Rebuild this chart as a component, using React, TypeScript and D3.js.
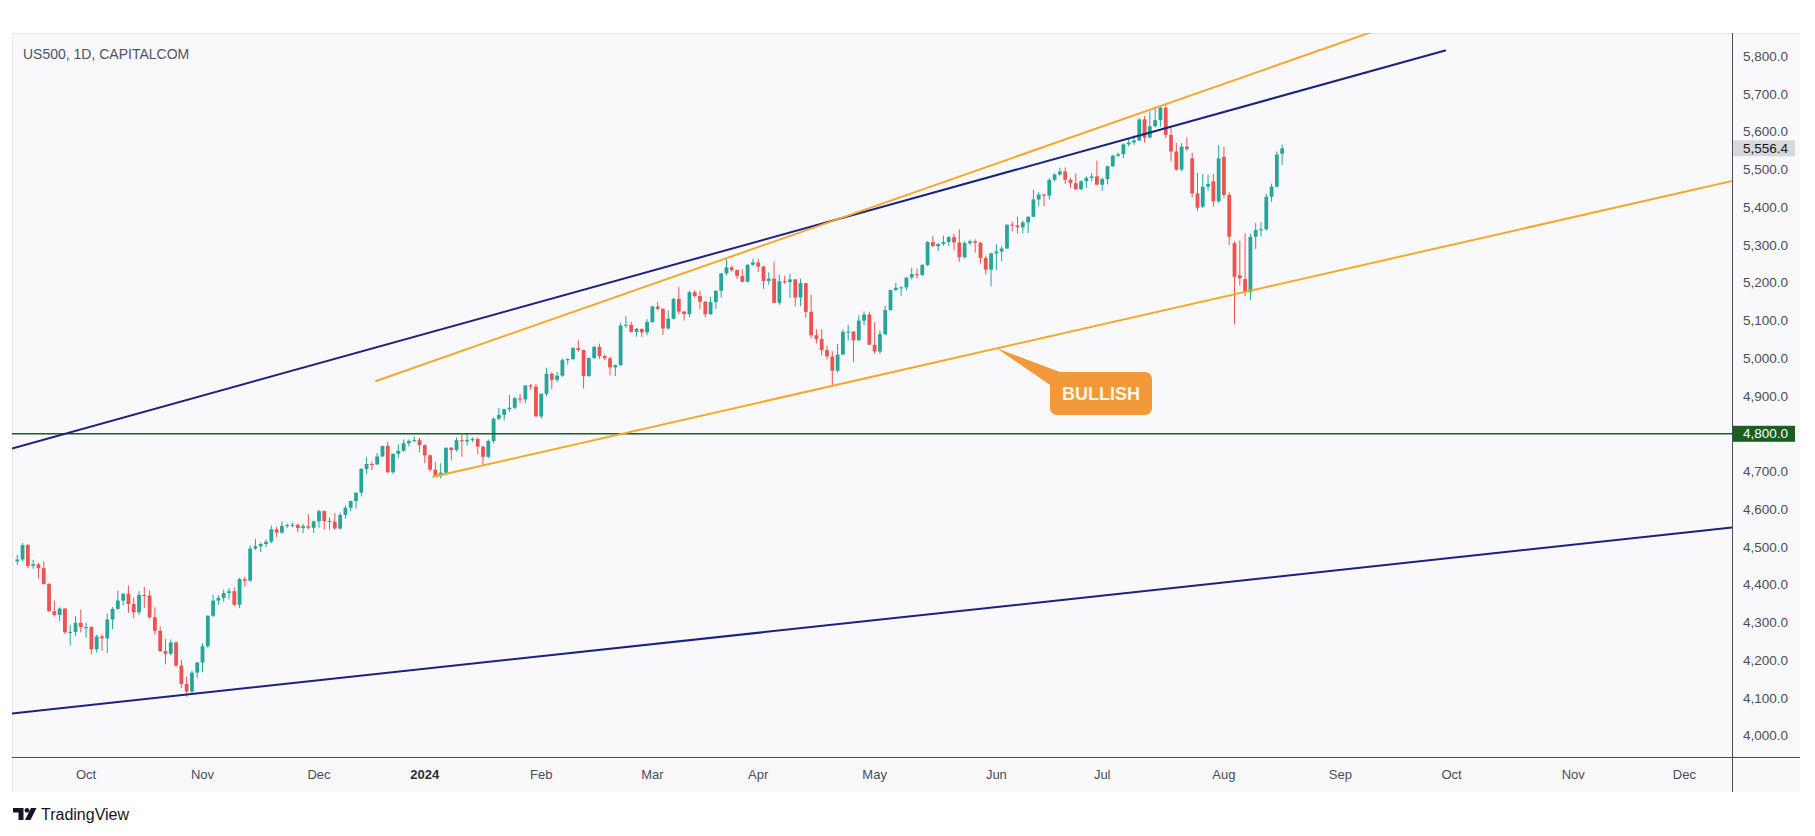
import React from "react";
import * as d3 from "d3";

type Bar = [number, number, number, number, number]; // day, open, high, low, close

const sep2023: Bar[] = [
  [13, 4462, 4479, 4453, 4467], [14, 4467, 4511, 4462, 4505], [15, 4505, 4508, 4444, 4450],
  [18, 4450, 4466, 4442, 4454], [19, 4454, 4458, 4417, 4444], [20, 4444, 4462, 4400, 4402],
  [21, 4402, 4404, 4328, 4330], [22, 4330, 4358, 4316, 4320], [25, 4320, 4340, 4303, 4337],
  [26, 4337, 4338, 4270, 4274], [27, 4274, 4293, 4239, 4275], [28, 4275, 4317, 4264, 4299],
  [29, 4299, 4334, 4274, 4288],
];
const oct2023: Bar[] = [
  [2, 4288, 4300, 4260, 4288], [3, 4288, 4290, 4216, 4229], [4, 4229, 4268, 4220, 4263],
  [5, 4263, 4268, 4225, 4258], [6, 4258, 4324, 4219, 4308], [9, 4308, 4341, 4283, 4336],
  [10, 4336, 4385, 4334, 4358], [11, 4358, 4378, 4345, 4376], [12, 4376, 4398, 4325, 4349],
  [13, 4349, 4366, 4311, 4327], [16, 4327, 4383, 4320, 4373], [17, 4373, 4394, 4338, 4371],
  [18, 4371, 4385, 4310, 4314], [19, 4314, 4340, 4268, 4278], [20, 4278, 4290, 4222, 4224],
  [23, 4224, 4256, 4189, 4217], [24, 4217, 4255, 4212, 4247], [25, 4247, 4250, 4182, 4186],
  [26, 4186, 4202, 4126, 4137], [27, 4137, 4156, 4103, 4117], [30, 4117, 4172, 4110, 4167],
  [31, 4167, 4195, 4153, 4194],
];
const nov2023: Bar[] = [
  [1, 4194, 4245, 4168, 4237], [2, 4237, 4319, 4233, 4318], [3, 4318, 4373, 4315, 4358],
  [6, 4358, 4372, 4347, 4365], [7, 4365, 4387, 4355, 4378], [8, 4378, 4391, 4361, 4383],
  [9, 4383, 4393, 4343, 4347], [10, 4347, 4418, 4338, 4415], [13, 4415, 4421, 4395, 4411],
  [14, 4411, 4504, 4408, 4496], [15, 4496, 4521, 4492, 4502], [16, 4502, 4512, 4487, 4508],
  [17, 4508, 4520, 4500, 4514], [20, 4514, 4557, 4510, 4547], [21, 4547, 4553, 4526, 4538],
  [22, 4538, 4568, 4535, 4556], [23, 4556, 4562, 4550, 4558], [24, 4558, 4564, 4552, 4559],
  [27, 4559, 4562, 4540, 4550], [28, 4550, 4562, 4537, 4555], [29, 4555, 4587, 4546, 4551],
  [30, 4551, 4570, 4537, 4568],
];
const dec2023: Bar[] = [
  [1, 4568, 4599, 4551, 4595], [4, 4595, 4597, 4546, 4569], [5, 4569, 4578, 4546, 4567],
  [6, 4567, 4590, 4546, 4549], [7, 4549, 4591, 4546, 4585], [8, 4585, 4610, 4575, 4604],
  [11, 4604, 4623, 4594, 4622], [12, 4622, 4644, 4601, 4644], [13, 4644, 4709, 4634, 4707],
  [14, 4707, 4738, 4694, 4720], [15, 4720, 4726, 4704, 4719], [18, 4719, 4749, 4717, 4740],
  [19, 4740, 4768, 4738, 4768], [20, 4768, 4779, 4697, 4698], [21, 4698, 4748, 4693, 4747],
  [22, 4747, 4772, 4736, 4755], [26, 4755, 4785, 4752, 4775], [27, 4775, 4785, 4766, 4781],
  [28, 4781, 4793, 4778, 4783], [29, 4783, 4789, 4751, 4770],
];
const jan2024: Bar[] = [
  [2, 4770, 4772, 4722, 4743], [3, 4743, 4745, 4700, 4705], [4, 4705, 4726, 4687, 4689],
  [5, 4689, 4722, 4682, 4697], [8, 4697, 4764, 4690, 4763], [9, 4763, 4765, 4730, 4757],
  [10, 4757, 4790, 4753, 4783], [11, 4783, 4798, 4739, 4780], [12, 4780, 4802, 4768, 4784],
  [15, 4784, 4790, 4778, 4786], [16, 4786, 4790, 4746, 4766], [17, 4766, 4768, 4714, 4739],
  [18, 4739, 4785, 4735, 4781], [19, 4781, 4843, 4775, 4840], [22, 4840, 4868, 4836, 4850],
  [23, 4850, 4866, 4835, 4865], [24, 4865, 4903, 4858, 4869], [25, 4869, 4898, 4865, 4894],
  [26, 4894, 4906, 4881, 4891], [29, 4891, 4929, 4881, 4928], [30, 4928, 4932, 4917, 4925],
  [31, 4925, 4932, 4845, 4846],
];
const feb2024: Bar[] = [
  [1, 4846, 4907, 4840, 4906], [2, 4906, 4975, 4900, 4959], [5, 4959, 4963, 4918, 4943],
  [6, 4943, 4964, 4937, 4954], [7, 4954, 5000, 4951, 4995], [8, 4995, 5000, 4984, 4998],
  [9, 4998, 5030, 4996, 5027], [12, 5027, 5048, 5017, 5022], [13, 5022, 5023, 4920, 4953],
  [14, 4953, 5002, 4950, 5001], [15, 5001, 5033, 4998, 5030], [16, 5030, 5039, 4998, 5006],
  [19, 5006, 5010, 4995, 5000], [20, 5000, 5004, 4955, 4976], [21, 4976, 4984, 4953, 4982],
  [22, 4982, 5094, 4980, 5087], [23, 5087, 5112, 5081, 5089], [26, 5089, 5097, 5068, 5070],
  [27, 5070, 5080, 5057, 5078], [28, 5078, 5079, 5057, 5069], [29, 5069, 5104, 5061, 5096],
];
const mar2024: Bar[] = [
  [1, 5096, 5140, 5094, 5137], [4, 5137, 5149, 5127, 5131], [5, 5131, 5133, 5062, 5079],
  [6, 5079, 5127, 5076, 5105], [7, 5105, 5160, 5103, 5157], [8, 5157, 5189, 5117, 5124],
  [11, 5124, 5125, 5100, 5117], [12, 5117, 5179, 5109, 5175], [13, 5175, 5180, 5160, 5165],
  [14, 5165, 5179, 5130, 5150], [15, 5150, 5152, 5108, 5117], [18, 5117, 5163, 5115, 5149],
  [19, 5149, 5180, 5131, 5179], [20, 5179, 5226, 5161, 5225], [21, 5225, 5262, 5220, 5241],
  [22, 5241, 5246, 5229, 5234], [25, 5234, 5235, 5210, 5218], [26, 5218, 5236, 5202, 5203],
  [27, 5203, 5249, 5201, 5248], [28, 5248, 5264, 5244, 5254],
];
const apr2024: Bar[] = [
  [1, 5254, 5264, 5229, 5243], [2, 5243, 5245, 5184, 5205], [3, 5205, 5228, 5195, 5211],
  [4, 5211, 5256, 5146, 5147], [5, 5147, 5222, 5142, 5204], [8, 5204, 5219, 5197, 5202],
  [9, 5202, 5224, 5160, 5209], [10, 5209, 5210, 5138, 5161], [11, 5161, 5211, 5138, 5199],
  [12, 5199, 5200, 5108, 5123], [15, 5123, 5168, 5053, 5061], [16, 5061, 5077, 5039, 5051],
  [17, 5051, 5077, 5008, 5022], [18, 5022, 5033, 4997, 5005], [19, 5005, 5019, 4929, 4967],
  [22, 4967, 5038, 4962, 5010], [23, 5010, 5076, 5008, 5070], [24, 5070, 5089, 5047, 5071],
  [25, 5071, 5072, 4990, 5048], [26, 5048, 5114, 5045, 5100], [29, 5100, 5124, 5088, 5116],
  [30, 5116, 5123, 5035, 5036],
];
const may2024: Bar[] = [
  [1, 5036, 5096, 5012, 5018], [2, 5018, 5073, 5011, 5064], [3, 5064, 5139, 5062, 5128],
  [6, 5128, 5181, 5126, 5181], [7, 5181, 5200, 5178, 5187], [8, 5187, 5191, 5165, 5188],
  [9, 5188, 5214, 5180, 5214], [10, 5214, 5240, 5209, 5223], [13, 5223, 5238, 5211, 5221],
  [14, 5221, 5250, 5218, 5247], [15, 5247, 5311, 5244, 5308], [16, 5308, 5325, 5296, 5297],
  [17, 5297, 5305, 5284, 5303], [20, 5303, 5325, 5298, 5308], [21, 5308, 5324, 5297, 5321],
  [22, 5321, 5330, 5286, 5307], [23, 5307, 5342, 5256, 5268], [24, 5268, 5311, 5264, 5305],
  [27, 5305, 5315, 5300, 5310], [28, 5310, 5315, 5280, 5306], [29, 5306, 5308, 5251, 5266],
  [30, 5266, 5272, 5222, 5235], [31, 5235, 5280, 5191, 5278],
];
const jun2024: Bar[] = [
  [3, 5278, 5302, 5234, 5283], [4, 5283, 5298, 5257, 5291], [5, 5291, 5355, 5290, 5354],
  [6, 5354, 5362, 5336, 5352], [7, 5352, 5375, 5331, 5347], [10, 5347, 5365, 5331, 5360],
  [11, 5360, 5376, 5332, 5375], [12, 5375, 5447, 5374, 5421], [13, 5421, 5441, 5403, 5434],
  [14, 5434, 5436, 5403, 5431], [17, 5431, 5477, 5420, 5473], [18, 5473, 5490, 5468, 5487],
  [19, 5487, 5505, 5484, 5495], [20, 5495, 5506, 5462, 5473], [21, 5473, 5478, 5452, 5464],
  [24, 5464, 5490, 5447, 5448], [25, 5448, 5472, 5446, 5469], [26, 5469, 5483, 5452, 5478],
  [27, 5478, 5491, 5469, 5482], [28, 5482, 5524, 5458, 5460],
];
const jul2024: Bar[] = [
  [1, 5460, 5479, 5444, 5475], [2, 5475, 5510, 5461, 5509], [3, 5509, 5539, 5507, 5537],
  [4, 5537, 5545, 5533, 5541], [5, 5541, 5570, 5531, 5567], [8, 5567, 5583, 5562, 5572],
  [9, 5572, 5590, 5566, 5577], [10, 5577, 5636, 5576, 5633], [11, 5633, 5642, 5571, 5585],
  [12, 5585, 5655, 5583, 5615], [15, 5615, 5667, 5611, 5631], [16, 5631, 5669, 5614, 5664],
  [17, 5664, 5670, 5583, 5592], [18, 5592, 5615, 5522, 5548], [19, 5548, 5571, 5497, 5500],
  [22, 5500, 5570, 5496, 5561], [23, 5561, 5585, 5550, 5555], [24, 5530, 5545, 5426, 5437],
  [25, 5437, 5492, 5390, 5399], [26, 5402, 5488, 5398, 5455], [29, 5455, 5487, 5444, 5462],
  [30, 5469, 5489, 5402, 5416], [31, 5416, 5565, 5412, 5530],
];
const aug2024: Bar[] = [
  [1, 5534, 5561, 5425, 5433], [2, 5433, 5440, 5300, 5322], [5, 5305, 5310, 5090, 5216],
  [6, 5220, 5312, 5193, 5212], [7, 5210, 5331, 5165, 5175], [8, 5175, 5330, 5155, 5322],
  [9, 5322, 5358, 5290, 5340], [12, 5340, 5360, 5322, 5342], [13, 5342, 5436, 5338, 5428],
  [14, 5428, 5463, 5415, 5455], [15, 5455, 5548, 5452, 5540], [16, 5542, 5566, 5512, 5556.4],
];

const monthBars: [string, Bar[]][] = [
  ["2023-09", sep2023], ["2023-10", oct2023], ["2023-11", nov2023], ["2023-12", dec2023],
  ["2024-01", jan2024], ["2024-02", feb2024], ["2024-03", mar2024], ["2024-04", apr2024],
  ["2024-05", may2024], ["2024-06", jun2024], ["2024-07", jul2024], ["2024-08", aug2024],
];

const noSessionDays = ["2023-12-25", "2024-01-01", "2024-03-29", "2024-12-25"];

const monthTickKeys = ["2023-10", "2023-11", "2023-12", "2024-01", "2024-02", "2024-03", "2024-04",
  "2024-05", "2024-06", "2024-07", "2024-08", "2024-09", "2024-10", "2024-11", "2024-12"];
const monthTickLabels = ["Oct", "Nov", "Dec", "2024", "Feb", "Mar", "Apr", "May", "Jun", "Jul",
  "Aug", "Sep", "Oct", "Nov", "Dec"];

const priceTicks = [4000, 4100, 4200, 4300, 4400, 4500, 4600, 4700, 4800, 4900, 5000, 5100, 5200,
  5300, 5400, 5500, 5600, 5700, 5800];

const lastPrice = 5556.4;
const levelPrice = 4800;

// trend lines: [session index, price] anchors
const navyUpper = [[-1, 4761.0], [269.8, 5815.6]];
const orangeUpper = [[67.8, 4939.9], [204.6, 5612.4]];
const orangeLower = [[78.6, 4686.3], [219.7, 5136.8]];
const navyLower = [[-1, 4059.1], [324, 4551.7]];

const calloutTip = [185.06, 5026.5];
const calloutText = "BULLISH";
const titleText = "US500, 1D, CAPITALCOM";

// ---------- layout ----------
const W = 1815, H = 836;
const PL = 12, PR = 1732, PT = 33, PB = 757, AXR = 1800, TAB = 792;

const UP = "#26a69a", DOWN = "#ef5350";
const NAVY = "#1a237e", ORANGE = "#f6a82a", LEVEL = "#1b5e20", CALLOUT = "#f2993a";

const fmt = d3.timeFormat("%Y-%m-%d");
const parse = d3.timeParse("%Y-%m-%d");
const sessions = d3.timeDay
  .range(parse("2023-09-13")!, parse("2025-01-01")!)
  .filter((d) => d.getDay() !== 0 && d.getDay() !== 6 && !noSessionDays.includes(fmt(d)))
  .map(fmt);
const sessionIndex = new Map(sessions.map((s, i) => [s, i] as [string, number]));

const candles = monthBars.flatMap(([m, bars]) =>
  bars.map(([day, o, h, l, c]) => {
    const date = `${m}-${String(day).padStart(2, "0")}`;
    return { date, i: sessionIndex.get(date) as number, o, h, l, c };
  })
);

const x = d3.scaleLinear().domain([-1, 324]).range([PL, PR]);
const y = d3.scaleLinear().domain([3943.6, 5856.7]).range([PB, 35]);

function seg(pts: number[][], extendRight: boolean) {
  const [[i1, p1], [i2, p2]] = pts;
  let ie = i2, pe = p2;
  if (extendRight) {
    ie = x.domain()[1] + 2;
    pe = p1 + ((p2 - p1) * (ie - i1)) / (i2 - i1);
  }
  return { x1: x(i1), y1: y(p1), x2: x(ie), y2: y(pe) };
}

const priceFmt = d3.format(",.1f");

export default function App() {
  const bodyW = 3.8;
  const lines = [
    { s: seg(navyLower, false), c: NAVY, w: 2 },
    { s: seg(navyUpper, false), c: NAVY, w: 2 },
    { s: seg(orangeUpper, true), c: ORANGE, w: 2 },
    { s: seg(orangeLower, true), c: ORANGE, w: 2 },
  ];
  const tx = x(calloutTip[0]);
  const ty = y(calloutTip[1]);
  const box = { x: tx + 53.3, y: ty + 23.7, w: 102, h: 43 };
  const monthTicks = monthTickKeys.map((k, j) => {
    const first = sessions.find((s) => s.startsWith(k))!;
    return { label: monthTickLabels[j], i: sessionIndex.get(first) as number, bold: monthTickLabels[j] === "2024" };
  });
  const axisFont = "'Liberation Sans', Arial, sans-serif";

  return (
    <svg width={W} height={H} style={{ position: "absolute", left: 0, top: 0, background: "#ffffff" }}
      fontFamily={axisFont}>
      <defs>
        <clipPath id="pane">
          <rect x={PL} y={PT} width={PR - PL} height={PB - PT} />
        </clipPath>
      </defs>
      <rect x={0} y={0} width={W} height={H} fill="#ffffff" />
      <rect x={PL} y={PT} width={AXR - PL} height={TAB - PT} fill="#f9f9fb" />
      <line x1={PL} x2={AXR} y1={PT + 0.5} y2={PT + 0.5} stroke="#e6e7ec" />
      <line x1={PL + 0.5} x2={PL + 0.5} y1={PT} y2={TAB} stroke="#e6e7ec" />

      <text x={23} y={59} fontSize={14} fill="#50535e">{titleText}</text>

      <g clipPath="url(#pane)">
        {candles.map((d) => {
          const cx = x(d.i);
          const col = d.c >= d.o ? UP : DOWN;
          const top = y(Math.max(d.o, d.c));
          const bot = y(Math.min(d.o, d.c));
          return (
            <g key={d.date}>
              <line x1={cx} x2={cx} y1={y(d.h)} y2={y(d.l)} stroke={col} strokeWidth={1} />
              <rect x={cx - bodyW / 2} y={top} width={bodyW} height={Math.max(1, bot - top)} fill={col} />
            </g>
          );
        })}
        <line x1={PL} x2={PR} y1={y(levelPrice)} y2={y(levelPrice)} stroke={LEVEL} strokeWidth={1.6} />
        {lines.map((l, k) => (
          <line key={k} {...l.s} stroke={l.c} strokeWidth={l.w} strokeLinecap="round" />
        ))}
        <polygon points={`${tx},${ty} ${tx + 63.3},${box.y} ${tx + 53.3},${ty + 36.7}`} fill={CALLOUT} />
        <rect x={box.x} y={box.y} width={box.w} height={box.h} rx={7} fill={CALLOUT} />
        <text x={box.x + box.w / 2} y={box.y + box.h / 2 + 6.5} fontSize={18} fontWeight="bold"
          textAnchor="middle" fill="#fff5e2">{calloutText}</text>
      </g>

      {/* axes borders */}
      <line x1={PL} x2={AXR} y1={PB + 0.5} y2={PB + 0.5} stroke="#4a4d57" strokeWidth={1} />
      <line x1={PR + 0.5} x2={PR + 0.5} y1={PT} y2={TAB} stroke="#4a4d57" strokeWidth={1} />

      {priceTicks.filter((p) => p !== levelPrice).map((p) => (
        <text key={p} x={1743} y={y(p) + 4.6} fontSize={13.5} fill="#4a4d57">{priceFmt(p)}</text>
      ))}

      <rect x={PR + 1} y={y(lastPrice) - 8} width={62} height={16} fill="#d6d8de" />
      <text x={1743} y={y(lastPrice) + 4.6} fontSize={13.5} fill="#131722">{priceFmt(lastPrice)}</text>

      <rect x={PR + 1} y={y(levelPrice) - 8} width={62} height={16} fill={LEVEL} />
      <text x={1743} y={y(levelPrice) + 4.6} fontSize={13.5} fill="#ffffff">{priceFmt(levelPrice)}</text>

      {monthTicks.map((t) => (
        <text key={t.label + t.i} x={x(t.i)} y={778.5} fontSize={13} textAnchor="middle"
          fontWeight={t.bold ? "bold" : "normal"} fill={t.bold ? "#2a2e39" : "#4a4d57"}>{t.label}</text>
      ))}

      {/* TradingView logo */}
      <g fill="#131722">
        <path d="M13 808 h10.5 v12 h-5 v-7.5 h-5.5 z" />
        <circle cx={27} cy={810.3} r={2.4} />
        <path d="M31 808 h5.5 l-6 12 h-5.5 z" />
      </g>
      <text x={41} y={819.5} fontSize={16} fill="#131722">TradingView</text>
    </svg>
  );
}
